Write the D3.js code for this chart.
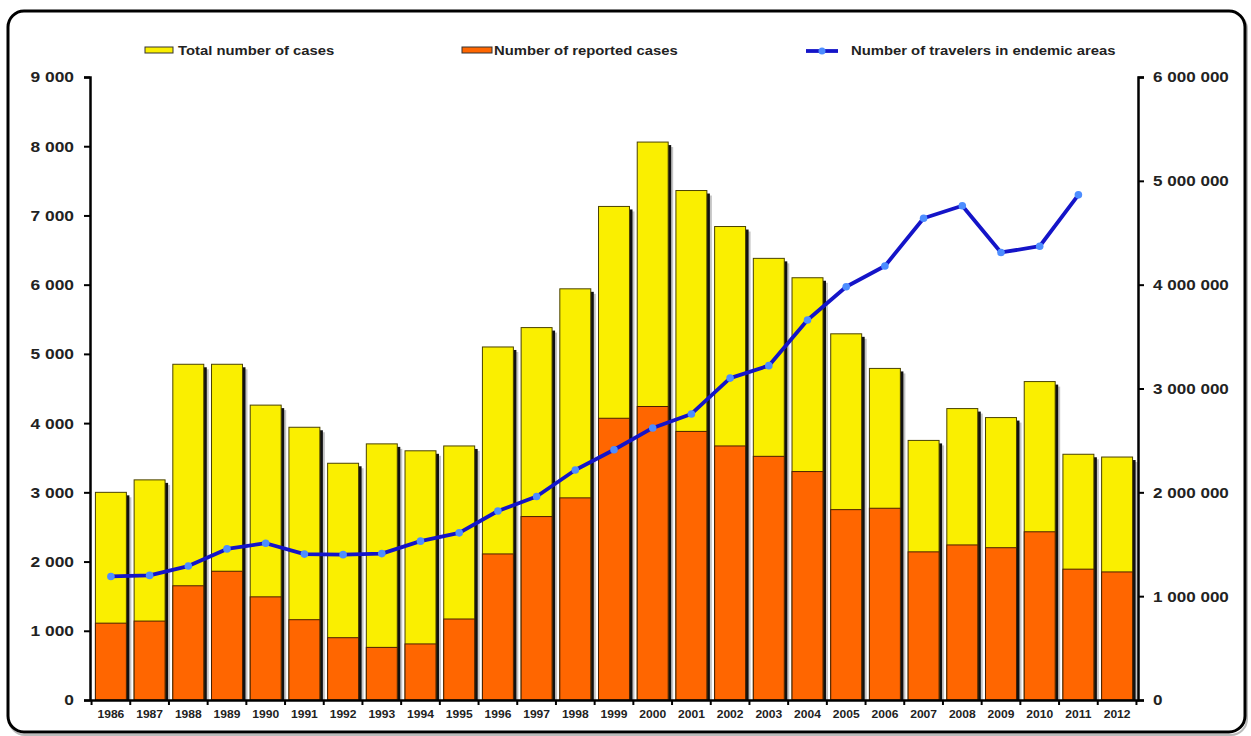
<!DOCTYPE html>
<html>
<head>
<meta charset="utf-8">
<script src="https://cdn.jsdelivr.net/npm/d3@7"></script>
<style>
  html, body { margin: 0; padding: 0; background: #fff; }
  svg { display: block; }
  text { font-family: "Liberation Sans", Arial, sans-serif; font-weight: bold; fill: #222; }
</style>
</head>
<body>
<svg id="chart" width="1251" height="736"></svg>
<script>
const years = ["1986","1987","1988","1989","1990","1991","1992","1993","1994","1995","1996","1997","1998","1999","2000","2001","2002","2003","2004","2005","2006","2007","2008","2009","2010","2011","2012"];
const totalCases = [3000,3180,4850,4850,4260,3940,3420,3700,3600,3670,5100,5380,5940,7130,8060,7360,6840,6380,6100,5290,4790,3750,4210,4080,4600,3550,3510];
const reportedCases = [1110,1140,1650,1860,1490,1160,900,760,810,1170,2110,2650,2920,4070,4240,3880,3670,3520,3300,2750,2770,2140,2240,2200,2430,1890,1850];
const travelers = [1190000,1200000,1290000,1455000,1510000,1405000,1400000,1410000,1530000,1610000,1820000,1960000,2215000,2410000,2620000,2755000,3100000,3220000,3660000,3980000,4180000,4640000,4760000,4310000,4370000,4865000,null];
const leftTicks = [0,1000,2000,3000,4000,5000,6000,7000,8000,9000];
const rightTicks = [0,1000000,2000000,3000000,4000000,5000000,6000000];
const legendLabels = ["Total number of cases","Number of reported cases","Number of travelers in endemic areas"];

const svg = d3.select("#chart");
const plot = {left: 90, right: 1138, top: 77, bottom: 700};

function stretch(sel, k) {
  sel.each(function () {
    const len = this.getComputedTextLength();
    d3.select(this).attr("textLength", len * k).attr("lengthAdjust", "spacingAndGlyphs");
  });
}

// outer frame
svg.append("rect").attr("x", 9).attr("y", 13).attr("width", 1238).attr("height", 722)
  .attr("rx", 16).attr("fill", "none").attr("stroke", "#bbb").attr("stroke-width", 2);
svg.append("rect").attr("x", 8).attr("y", 11).attr("width", 1237).attr("height", 721)
  .attr("rx", 16).attr("fill", "#fff").attr("stroke", "#000").attr("stroke-width", 3);

const x = d3.scaleBand().domain(years).range([plot.left, plot.right]).paddingInner(0.2).paddingOuter(0.14);
const yL = d3.scaleLinear().domain([0, 9000]).range([plot.bottom, plot.top]);
const yR = d3.scaleLinear().domain([0, 6000000]).range([plot.bottom, plot.top]);
const fmt = v => d3.format(",")(v).replace(/,/g, " ");

const bw = x.bandwidth();
const g = svg.append("g");

// bar shadows
g.selectAll("rect.sh2").data(years).join("rect")
  .attr("x", d => x(d) + 5).attr("y", (d, i) => yL(totalCases[i]) + 5)
  .attr("width", bw).attr("height", (d, i) => plot.bottom - yL(totalCases[i]) - 5)
  .attr("fill", "#c4c4c4");
g.selectAll("rect.sh1").data(years).join("rect")
  .attr("x", d => x(d) + 3).attr("y", (d, i) => yL(totalCases[i]) + 3)
  .attr("width", bw).attr("height", (d, i) => plot.bottom - yL(totalCases[i]) - 3)
  .attr("fill", "#111");

// total bars (yellow)
g.selectAll("rect.tot").data(years).join("rect")
  .attr("x", d => x(d)).attr("y", (d, i) => yL(totalCases[i]))
  .attr("width", bw).attr("height", (d, i) => plot.bottom - yL(totalCases[i]))
  .attr("fill", "#FAEF00").attr("stroke", "#4a4200").attr("stroke-width", 1);

// reported bars (orange)
g.selectAll("rect.rep").data(years).join("rect")
  .attr("x", d => x(d)).attr("y", (d, i) => yL(reportedCases[i]))
  .attr("width", bw).attr("height", (d, i) => plot.bottom - yL(reportedCases[i]))
  .attr("fill", "#FF6600").attr("stroke", "#4a2000").attr("stroke-width", 1);

// axes
const axL = svg.append("g").attr("transform", `translate(${plot.left},0)`)
  .call(d3.axisLeft(yL).tickValues(leftTicks).tickFormat(fmt).tickSize(6).tickPadding(10));
const axR = svg.append("g").attr("transform", `translate(${plot.right},0)`)
  .call(d3.axisRight(yR).tickValues(rightTicks).tickFormat(fmt).tickSize(6).tickPadding(9));
[axL, axR].forEach(a => {
  a.select(".domain").attr("stroke", "#000").attr("stroke-width", 2.5);
  a.selectAll(".tick line").attr("stroke", "#000").attr("stroke-width", 2);
  a.selectAll(".tick text").style("font-size", "15.5px").style("font-weight", "bold")
    .style("font-family", "'Liberation Sans', Arial, sans-serif").attr("fill", "#222");
});
stretch(axL.selectAll(".tick text"), 1.12);
stretch(axR.selectAll(".tick text"), 1.1);

const axB = svg.append("g").attr("transform", `translate(0,${plot.bottom})`)
  .call(d3.axisBottom(x).tickSize(0).tickPadding(10));
axB.select(".domain").attr("stroke", "#000").attr("stroke-width", 2.5);
axB.selectAll(".tick text").style("font-size", "11.5px").style("font-weight", "bold")
  .style("font-family", "'Liberation Sans', Arial, sans-serif").attr("fill", "#222");
stretch(axB.selectAll(".tick text"), 1.05);
const step = x.step();
const bounds = years.map(d => x(d) - (step - bw) / 2).concat([x(years[years.length - 1]) + bw + (step - bw) / 2]);
axB.selectAll("line.bt").data(bounds).join("line").attr("class", "bt")
  .attr("x1", d => d).attr("x2", d => d).attr("y1", 0).attr("y2", 5)
  .attr("stroke", "#000").attr("stroke-width", 2);

// travelers line
const pts = years.map((d, i) => ({year: d, v: travelers[i]})).filter(p => p.v != null);
const line = d3.line().x(p => x(p.year) + bw / 2).y(p => yR(p.v));
svg.append("path").datum(pts).attr("d", line).attr("fill", "none")
  .attr("stroke", "#1414C8").attr("stroke-width", 3.8).attr("stroke-linejoin", "round");
svg.selectAll("circle.pt").data(pts).join("circle")
  .attr("cx", p => x(p.year) + bw / 2).attr("cy", p => yR(p.v)).attr("r", 3.8)
  .attr("fill", "#4D8DFF");

// legend
const lg = svg.append("g");
const legY = 50;
lg.append("rect").attr("x", 145).attr("y", legY - 3).attr("width", 28).attr("height", 6)
  .attr("fill", "#FAEF00").attr("stroke", "#333").attr("stroke-width", 1);
lg.append("rect").attr("x", 462).attr("y", legY - 3).attr("width", 30).attr("height", 6)
  .attr("fill", "#FF6600").attr("stroke", "#333").attr("stroke-width", 1);
lg.append("line").attr("x1", 806).attr("x2", 838).attr("y1", legY + 1).attr("y2", legY + 1)
  .attr("stroke", "#1414C8").attr("stroke-width", 3.8);
lg.append("circle").attr("cx", 822).attr("cy", legY + 1).attr("r", 3.5).attr("fill", "#4D8DFF");
const legText = lg.selectAll("text.lt").data(legendLabels).join("text").attr("class", "lt")
  .attr("x", (d, i) => [178, 494, 851][i]).attr("y", legY).attr("dy", "0.35em")
  .style("font-size", "13px").attr("fill", "#333").text(d => d);
stretch(legText, 1.14);
</script>
</body>
</html>
